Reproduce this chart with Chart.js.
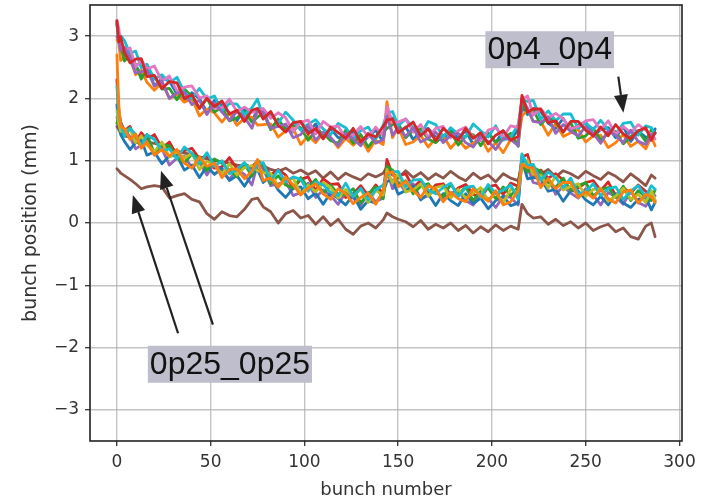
<!DOCTYPE html>
<html>
<head>
<meta charset="utf-8">
<script src="https://cdn.jsdelivr.net/npm/chart.js@4.4.1/dist/chart.umd.min.js"></script>
<style>
  html, body { margin: 0; padding: 0; background: #fff; }
  canvas { display: block; }
</style>
</head>
<body>
<canvas id="chart" width="722" height="503"></canvas>
<script>
// Bunch indices (x)
const bunches = [0,1,2,4,7,10,13,16,20,24, 28,32,36,40,44,48,52,56,60,64,
  68,72,75,78,82,86,90,94,98,102, 106,110,114,118,122,126,130,134,138,142,
  144,147,150,154,158,162,166,170,174,178, 182,186,190,194,198,202,206,210,214,216,
  219,222,226,230,234,238,242,246,250,254, 258,262,266,270,274,278,282,285,287];

// 0p4_0p4 group (upper band)
const topRed = [3.25,2.91,2.99,2.74,2.57,2.63,2.64,2.35,2.37,2.16, 2.27,2.25,2.0,2.06,1.84,2.0,1.87,1.96,1.75,1.81,
  1.63,1.81,1.84,1.67,1.79,1.57,1.46,1.61,1.63,1.43, 1.52,1.35,1.54,1.45,1.36,1.52,1.3,1.43,1.38,1.55,
  1.65,1.67,1.45,1.53,1.62,1.4,1.51,1.32,1.52,1.41, 1.33,1.52,1.36,1.45,1.27,1.41,1.48,1.33,1.39,2.05,
  1.78,1.83,1.83,1.61,1.64,1.46,1.63,1.63,1.49,1.4, 1.54,1.4,1.58,1.43,1.35,1.48,1.53,1.33,1.45];
const topPurple = [2.99,2.93,2.77,2.82,2.65,2.41,2.43,2.46,2.2,2.28, 2.0,2.09,2.1,1.9,1.97,1.74,1.93,1.78,1.65,1.79,
  1.7,1.52,1.81,1.77,1.52,1.55,1.59,1.37,1.42,1.56, 1.33,1.46,1.37,1.24,1.44,1.35,1.24,1.44,1.28,1.34,
  1.71,1.41,1.53,1.39,1.53,1.3,1.36,1.46,1.29,1.41, 1.44,1.29,1.22,1.39,1.31,1.18,1.36,1.34,1.24,2.01,
  1.84,1.63,1.61,1.7,1.44,1.58,1.47,1.4,1.55,1.44, 1.28,1.48,1.41,1.29,1.49,1.31,1.26,1.42,1.44];
const topPink = [3.25,3.13,2.84,2.78,2.81,2.5,2.62,2.47,2.52,2.28, 2.36,2.12,2.18,2.2,2.01,2.04,1.84,1.85,1.99,1.79,
  1.86,1.78,1.78,1.84,1.68,1.77,1.69,1.47,1.62,1.65, 1.43,1.63,1.54,1.56,1.35,1.41,1.55,1.38,1.54,1.4,
  1.87,1.62,1.62,1.67,1.46,1.58,1.38,1.52,1.55,1.37, 1.48,1.54,1.38,1.32,1.49,1.53,1.38,1.56,1.53,1.98,
  2.04,1.73,1.83,1.69,1.76,1.67,1.51,1.55,1.64,1.66, 1.5,1.64,1.42,1.55,1.45,1.58,1.49,1.42,1.35];
const topCyan = [3.18,2.92,3.01,2.93,2.72,2.76,2.49,2.55,2.31,2.38, 2.25,2.34,2.1,2.0,2.16,1.99,2.04,1.8,1.92,1.91,
  1.74,1.85,1.99,1.69,1.75,1.6,1.78,1.65,1.49,1.59, 1.66,1.51,1.42,1.6,1.53,1.37,1.48,1.54,1.35,1.57,
  1.76,1.79,1.56,1.67,1.53,1.43,1.63,1.58,1.38,1.53, 1.43,1.38,1.59,1.48,1.38,1.56,1.33,1.38,1.58,1.98,
  1.95,1.97,1.67,1.8,1.64,1.75,1.75,1.52,1.61,1.5, 1.65,1.49,1.42,1.6,1.62,1.41,1.56,1.53,1.44];
const topGreen = [3.23,2.9,2.86,2.6,2.69,2.54,2.31,2.46,2.35,2.15, 2.16,1.98,2.15,2.03,1.84,2.0,1.78,1.86,1.64,1.69,
  1.79,1.62,1.7,1.77,1.5,1.67,1.49,1.57,1.53,1.33, 1.48,1.44,1.32,1.28,1.49,1.28,1.42,1.22,1.37,1.45,
  1.52,1.58,1.6,1.37,1.49,1.51,1.35,1.29,1.4,1.47, 1.25,1.4,1.42,1.24,1.44,1.3,1.36,1.44,1.23,1.94,
  1.77,1.82,1.58,1.7,1.61,1.46,1.61,1.36,1.4,1.52, 1.33,1.44,1.47,1.27,1.39,1.48,1.31,1.5,1.44];
const topOrange = [2.94,2.9,2.61,2.67,2.64,2.38,2.45,2.26,2.13,2.26, 2.0,2.06,1.94,2.0,1.72,1.83,1.77,1.62,1.77,1.57,
  1.68,1.7,1.57,1.58,1.59,1.38,1.48,1.52,1.26,1.4, 1.29,1.45,1.37,1.21,1.36,1.25,1.37,1.15,1.33,1.26,
  1.95,1.37,1.54,1.26,1.3,1.41,1.22,1.36,1.4,1.2, 1.34,1.2,1.28,1.37,1.15,1.29,1.13,1.34,1.31,1.71,
  1.83,1.63,1.63,1.41,1.6,1.39,1.45,1.5,1.3,1.4, 1.41,1.21,1.29,1.42,1.23,1.31,1.19,1.39,1.24];
const topBlue = [3.2,3.04,2.8,2.67,2.77,2.53,2.38,2.53,2.2,2.32, 2.28,2.07,1.96,2.09,2.0,1.78,1.97,1.89,1.77,1.64,
  1.84,1.63,1.83,1.8,1.52,1.65,1.51,1.46,1.63,1.46, 1.59,1.37,1.51,1.37,1.37,1.47,1.25,1.39,1.49,1.3,
  1.74,1.68,1.45,1.54,1.34,1.47,1.52,1.38,1.32,1.52, 1.36,1.48,1.26,1.41,1.45,1.29,1.48,1.34,1.5,1.86,
  1.74,1.84,1.79,1.6,1.52,1.68,1.48,1.57,1.62,1.39, 1.5,1.53,1.37,1.55,1.31,1.47,1.38,1.33,1.51];

// 0p25_0p25 group (lower band)
const lowOrange = [2.7,1.9,1.55,1.51,1.34,1.43,1.2,1.3,1.09,1.18, 1.07,1.18,0.96,0.88,1.06,0.91,0.96,0.73,0.86,0.87,
  0.71,0.83,1.02,0.68,0.72,0.57,0.74,0.61,0.45,0.56, 0.63,0.47,0.38,0.55,0.47,0.31,0.41,0.48,0.3,0.52,
  0.79,0.82,0.58,0.67,0.52,0.41,0.6,0.55,0.34,0.49, 0.39,0.34,0.55,0.44,0.35,0.52,0.29,0.34,0.52,0.94,
  0.89,0.88,0.57,0.71,0.55,0.65,0.65,0.41,0.5,0.4, 0.55,0.39,0.32,0.5,0.53,0.32,0.46,0.42,0.33];
const lowCyan = [2.2,1.75,1.6,1.39,1.52,1.42,1.23,1.42,1.34,1.16, 1.19,1.03,1.22,1.12,0.95,1.13,0.91,1.0,0.79,0.86,
  0.97,0.81,0.94,0.97,0.68,0.85,0.66,0.74,0.7,0.51, 0.66,0.61,0.49,0.44,0.64,0.43,0.56,0.37,0.53,0.61,
  0.76,0.82,0.83,0.58,0.69,0.7,0.53,0.47,0.57,0.64, 0.42,0.57,0.59,0.41,0.62,0.47,0.53,0.61,0.38,1.11,
  0.92,0.94,0.69,0.82,0.73,0.57,0.72,0.46,0.5,0.63, 0.44,0.55,0.58,0.38,0.51,0.6,0.42,0.6,0.54];
const lowOlive = [1.8,1.6,1.47,1.49,1.5,1.29,1.4,1.25,1.15,1.3, 1.06,1.14,1.04,1.12,0.86,0.99,0.93,0.79,0.95,0.77,
  0.89,0.92,0.84,0.81,0.8,0.59,0.68,0.72,0.46,0.61, 0.5,0.65,0.57,0.4,0.54,0.43,0.54,0.33,0.52,0.45,
  0.86,0.64,0.8,0.5,0.53,0.63,0.43,0.57,0.6,0.4, 0.54,0.4,0.48,0.57,0.36,0.49,0.33,0.54,0.49,0.91,
  1.01,0.78,0.77,0.56,0.75,0.53,0.59,0.63,0.43,0.54, 0.55,0.35,0.43,0.56,0.38,0.46,0.33,0.52,0.37];
const lowGreen = [1.6,1.7,1.55,1.39,1.53,1.34,1.23,1.42,1.12,1.26, 1.24,1.05,0.96,1.11,1.04,0.84,1.03,0.96,0.85,0.74,
  0.95,0.75,1.0,0.93,0.63,0.76,0.61,0.56,0.73,0.57, 0.7,0.47,0.61,0.46,0.45,0.55,0.32,0.47,0.58,0.39,
  0.91,0.85,0.61,0.68,0.47,0.59,0.63,0.49,0.42,0.62, 0.46,0.58,0.36,0.51,0.56,0.39,0.58,0.44,0.58,0.96,
  0.82,0.89,0.83,0.65,0.57,0.72,0.52,0.6,0.65,0.43, 0.54,0.57,0.41,0.59,0.36,0.52,0.42,0.36,0.54];
const lowBlue = [1.9,1.55,1.42,1.31,1.18,1.29,1.34,1.09,1.14,0.95, 1.08,1.08,0.85,0.93,0.73,0.91,0.78,0.88,0.68,0.76,
  0.59,0.78,0.86,0.65,0.75,0.53,0.41,0.56,0.58,0.39, 0.48,0.3,0.49,0.39,0.29,0.45,0.22,0.36,0.32,0.49,
  0.67,0.69,0.46,0.52,0.6,0.37,0.47,0.28,0.47,0.36, 0.28,0.47,0.31,0.4,0.23,0.36,0.43,0.28,0.32,1.0,
  0.71,0.73,0.72,0.51,0.54,0.35,0.52,0.51,0.37,0.29, 0.43,0.29,0.47,0.32,0.25,0.38,0.42,0.21,0.33];
const lowPurple = [1.7,1.6,1.45,1.51,1.38,1.19,1.25,1.32,1.09,1.19, 0.93,1.04,1.07,0.89,0.98,0.77,0.96,0.82,0.7,0.86,
  0.78,0.61,0.95,0.87,0.6,0.63,0.66,0.44,0.49,0.64, 0.41,0.53,0.44,0.3,0.49,0.4,0.28,0.49,0.34,0.4,
  0.85,0.55,0.66,0.5,0.63,0.39,0.44,0.54,0.36,0.48, 0.51,0.36,0.29,0.46,0.39,0.25,0.43,0.41,0.29,1.08,
  0.89,0.65,0.62,0.72,0.46,0.59,0.48,0.4,0.55,0.45, 0.29,0.49,0.42,0.3,0.51,0.33,0.27,0.42,0.44];
const lowRed = [2.3,1.8,1.62,1.48,1.55,1.29,1.45,1.34,1.42,1.2, 1.3,1.08,1.16,1.2,1.03,1.08,0.88,0.9,1.05,0.87,
  0.95,0.88,0.93,0.95,0.77,0.86,0.77,0.55,0.7,0.74, 0.52,0.71,0.62,0.63,0.41,0.47,0.6,0.44,0.61,0.47,
  1.02,0.77,0.76,0.79,0.57,0.68,0.47,0.61,0.63,0.45, 0.56,0.62,0.46,0.4,0.58,0.61,0.46,0.64,0.59,1.06,
  1.1,0.76,0.85,0.72,0.79,0.69,0.53,0.56,0.65,0.68, 0.52,0.66,0.44,0.57,0.48,0.61,0.51,0.43,0.36];

// the two brown outliers
const brownUpper = [1.55,1.5,1.45,1.4,1.38,1.35,1.33,1.3,1.28,1.24, 1.2,1.16,1.12,1.1,1.06,1.03,1.0,0.98,0.96,0.93,
  0.92,0.9,1.0,0.92,0.86,0.83,0.88,0.8,0.85,0.78, 0.84,0.72,0.82,0.7,0.8,0.74,0.69,0.79,0.74,0.8,
  0.9,0.78,0.72,0.84,0.73,0.81,0.7,0.79,0.72,0.83, 0.74,0.68,0.8,0.71,0.77,0.66,0.79,0.72,0.68,0.95,
  0.82,0.9,0.78,0.86,0.74,0.84,0.79,0.72,0.83,0.76, 0.7,0.81,0.75,0.66,0.79,0.7,0.6,0.77,0.72];
const brownLower = [0.87,0.84,0.8,0.76,0.7,0.63,0.55,0.58,0.6,0.58, 0.4,0.44,0.47,0.38,0.34,0.15,0.06,0.18,0.12,0.1,
  0.22,0.38,0.4,0.26,0.18,0.0,0.15,0.2,0.08,0.12, -0.02,0.1,-0.04,0.06,-0.1,-0.18,-0.05,0.0,-0.08,0.05,
  0.16,0.1,0.06,0.02,-0.06,0.04,-0.1,-0.02,-0.08,0.0, -0.12,-0.04,-0.16,-0.06,-0.14,-0.03,-0.12,-0.05,-0.1,0.3,
  0.15,0.08,0.1,-0.02,0.06,-0.04,0.02,-0.08,0.0,-0.12, -0.06,-0.02,-0.14,-0.08,-0.22,-0.26,-0.05,0.0,-0.22];

const xTicks = [0, 50, 100, 150, 200, 250, 300];
const yTicks = [-3, -2, -1, 0, 1, 2, 3];

// Anotações (coordenadas em unidades de dados)
const notes = [
  { text: '0p4_0p4', x: 196.5, y: 2.79, arrows: [[267.4, 2.35, 270.1, 1.77]] },
  { text: '0p25_0p25', x: 16.5, y: -2.26, arrows: [[32.6, -1.77, 8.5, 0.45], [51.2, -1.63, 23.5, 0.84]] }
];

const C = {
  blue: '#1f77b4', orange: '#ff7f0e', green: '#2ca02c', red: '#d62728', purple: '#9467bd',
  brown: '#8c564b', pink: '#e377c2', olive: '#bcbd22', cyan: '#17becf'
};

function serie(values, color) {
  return {
    data: values.map((v, i) => ({ x: bunches[i], y: v })),
    borderColor: color,
    borderWidth: 2.8,
    borderJoinStyle: 'round',
    borderCapStyle: 'round',
    pointRadius: 0,
    tension: 0,
    fill: false
  };
}

// ordem de desenho estilo matplotlib: o último fica por cima
const drawOrder = [
  serie(brownUpper, C.brown), serie(brownLower, C.brown),
  serie(lowRed, C.red), serie(lowPurple, C.purple), serie(lowBlue, C.blue), serie(lowGreen, C.green),
  serie(lowOlive, C.olive), serie(lowCyan, C.cyan), serie(lowOrange, C.orange),
  serie(topBlue, C.blue), serie(topOrange, C.orange), serie(topGreen, C.green), serie(topCyan, C.cyan),
  serie(topPink, C.pink), serie(topPurple, C.purple), serie(topRed, C.red)
];
// Chart.js desenha o índice 0 por último
const datasets = drawOrder.slice().reverse();

const tickFont = { family: 'DejaVu Sans', size: 17 };
const gridStyle = { color: 'rgba(176,176,176,0.75)', lineWidth: 1.4, tickLength: 5, tickColor: '#333', tickWidth: 1.3 };

const frameAndNotes = {
  id: 'frameAndNotes',
  afterDraw(chart) {
    const { ctx, chartArea: a, scales: { x, y } } = chart;
    ctx.save();
    ctx.strokeStyle = '#222';
    ctx.lineWidth = 1.6;
    ctx.strokeRect(a.left, a.top, a.right - a.left, a.bottom - a.top);

    ctx.font = '32px "Liberation Sans", Arial, sans-serif';
    ctx.textBaseline = 'middle';
    notes.forEach(n => {
      const px = x.getPixelForValue(n.x);
      const py = y.getPixelForValue(n.y);
      const w = ctx.measureText(n.text).width;
      ctx.fillStyle = '#bebecd';
      ctx.fillRect(px, py - 18, w + 4, 37);
      ctx.fillStyle = '#111';
      ctx.fillText(n.text, px + 2, py + 1);

      n.arrows.forEach(([x0, y0, x1, y1]) => {
        const ax = x.getPixelForValue(x0), ay = y.getPixelForValue(y0);
        const bx = x.getPixelForValue(x1), by = y.getPixelForValue(y1);
        const ang = Math.atan2(by - ay, bx - ax);
        const hl = 18, hw = 7;
        const cx = bx - hl * Math.cos(ang), cy = by - hl * Math.sin(ang);
        ctx.strokeStyle = '#222';
        ctx.lineWidth = 2.2;
        ctx.beginPath();
        ctx.moveTo(ax, ay);
        ctx.lineTo(cx, cy);
        ctx.stroke();
        ctx.fillStyle = '#222';
        ctx.beginPath();
        ctx.moveTo(bx, by);
        ctx.lineTo(cx + hw * Math.sin(ang), cy - hw * Math.cos(ang));
        ctx.lineTo(cx - hw * Math.sin(ang), cy + hw * Math.cos(ang));
        ctx.closePath();
        ctx.fill();
      });
    });
    ctx.restore();
  }
};

const ctx = document.getElementById('chart').getContext('2d');
new Chart(ctx, {
  type: 'line',
  data: { datasets },
  options: {
    responsive: false,
    animation: false,
    layout: { padding: { top: 5, right: 40, left: 0, bottom: 0 } },
    plugins: { legend: { display: false }, tooltip: { enabled: false } },
    scales: {
      x: {
        type: 'linear',
        min: -14.35,
        max: 301.35,
        afterBuildTicks: s => { s.ticks = xTicks.map(v => ({ value: v })); },
        afterFit: s => { s.height = 62; s.paddingLeft = 0; s.paddingRight = 0; },
        grid: gridStyle,
        border: { display: false },
        ticks: { font: tickFont, color: '#333', padding: 6, maxRotation: 0, autoSkip: false },
        title: { display: true, text: 'bunch number', color: '#333',
          font: { family: 'DejaVu Sans', size: 18 }, padding: { top: 0, bottom: 2 } }
      },
      y: {
        type: 'linear',
        min: -3.5,
        max: 3.5,
        afterBuildTicks: s => { s.ticks = yTicks.map(v => ({ value: v })); },
        afterFit: s => { s.width = 90; s.paddingTop = 0; s.paddingBottom = 0; },
        grid: gridStyle,
        border: { display: false },
        ticks: { font: tickFont, color: '#333', padding: 6,
          callback: v => (v < 0 ? '\u2212' + Math.abs(v) : String(v)) },
        title: { display: true, text: 'bunch position (mm)', color: '#333',
          font: { family: 'DejaVu Sans', size: 19 }, padding: { top: 20, bottom: 0 } }
      }
    }
  },
  plugins: [frameAndNotes]
});
</script>
</body>
</html>
